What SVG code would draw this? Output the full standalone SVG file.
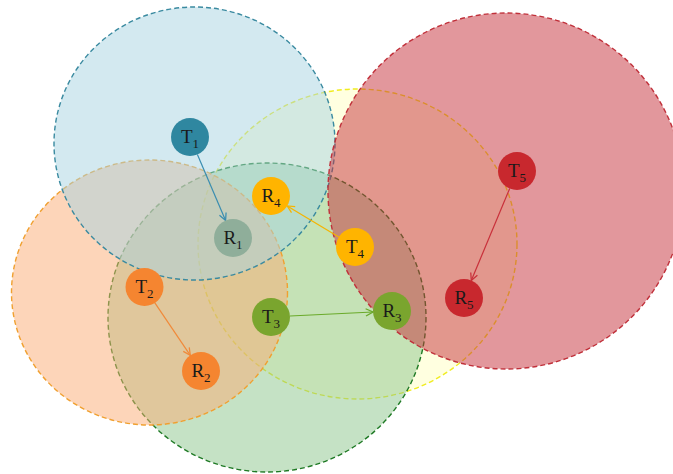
<svg xmlns="http://www.w3.org/2000/svg" width="673" height="474" viewBox="0 0 673 474">
<style>
.area{stroke-width:1.4;stroke-dasharray:5 3}
.lbl{font-family:"Liberation Serif","DejaVu Serif",serif;font-size:19px;fill:#1a1a1a;text-anchor:middle}
.sub{font-size:13px}
.link{stroke-width:1.2;fill:none}
</style>
<defs>
<marker id="mb" viewBox="0 0 10 10" refX="9" refY="5" markerWidth="9" markerHeight="9" markerUnits="userSpaceOnUse" orient="auto"><path d="M1,1 L9,5 L1,9" fill="none" stroke="#3a8db0" stroke-width="1.4"/></marker>
<marker id="my" viewBox="0 0 10 10" refX="9" refY="5" markerWidth="9" markerHeight="9" markerUnits="userSpaceOnUse" orient="auto"><path d="M1,1 L9,5 L1,9" fill="none" stroke="#f5b400" stroke-width="1.4"/></marker>
<marker id="mo" viewBox="0 0 10 10" refX="9" refY="5" markerWidth="9" markerHeight="9" markerUnits="userSpaceOnUse" orient="auto"><path d="M1,1 L9,5 L1,9" fill="none" stroke="#f08a3a" stroke-width="1.4"/></marker>
<marker id="mg" viewBox="0 0 10 10" refX="9" refY="5" markerWidth="9" markerHeight="9" markerUnits="userSpaceOnUse" orient="auto"><path d="M1,1 L9,5 L1,9" fill="none" stroke="#6aaa2a" stroke-width="1.4"/></marker>
<marker id="mr" viewBox="0 0 10 10" refX="9" refY="5" markerWidth="9" markerHeight="9" markerUnits="userSpaceOnUse" orient="auto"><path d="M1,1 L9,5 L1,9" fill="none" stroke="#c8303a" stroke-width="1.4"/></marker>
</defs>
<g id="areas">
<ellipse id="area4" class="area" cx="357.5" cy="244" rx="159.5" ry="155" fill="#ffffc2" fill-opacity="0.5" stroke="#f0ec20"/>
<ellipse id="area3" class="area" cx="267" cy="317.5" rx="159" ry="154.5" fill="#8cc68c" fill-opacity="0.5" stroke="#1f7a25"/>
<ellipse id="area2" class="area" cx="149.5" cy="292.5" rx="138" ry="132.5" fill="#fbab74" fill-opacity="0.5" stroke="#f0a030"/>
<ellipse id="area1" class="area" cx="194.5" cy="143.5" rx="140.5" ry="136.5" fill="#a8d4e2" fill-opacity="0.5" stroke="#3a8aa0"/>
<ellipse id="area5" class="area" cx="506" cy="191" rx="178" ry="178" fill="#c6303a" fill-opacity="0.5" stroke="#c0303a"/>
</g>
<g id="connectors">
<line class="link" x1="197.4" y1="154.5" x2="225.6" y2="220.5" stroke="#3a8db0" marker-end="url(#mb)"/>
<line class="link" x1="338.8" y1="237.1" x2="287.2" y2="205.9" stroke="#f5b400" marker-end="url(#my)"/>
<line class="link" x1="154.7" y1="302.7" x2="190.3" y2="355.3" stroke="#f08a3a" marker-end="url(#mo)"/>
<line class="link" x1="290" y1="316" x2="373" y2="312" stroke="#6aaa2a" marker-end="url(#mg)"/>
<line class="link" x1="509.7" y1="188.5" x2="471.3" y2="280.5" stroke="#c8303a" marker-end="url(#mr)"/>
</g>
<g id="T1"><circle cx="190" cy="137" r="19" fill="#2f87a0"/><text class="lbl" x="190" y="143">T<tspan class="sub" dy="5">1</tspan></text></g>
<g id="R1"><circle cx="233" cy="238" r="19" fill="#8fae9a"/><text class="lbl" x="233" y="244">R<tspan class="sub" dy="5">1</tspan></text></g>
<g id="T2"><circle cx="144.5" cy="287" r="19" fill="#f58530"/><text class="lbl" x="144.5" y="293">T<tspan class="sub" dy="5">2</tspan></text></g>
<g id="R2"><circle cx="201" cy="371" r="19" fill="#f58530"/><text class="lbl" x="201" y="377">R<tspan class="sub" dy="5">2</tspan></text></g>
<g id="T3"><circle cx="271" cy="317" r="19" fill="#7aa52e"/><text class="lbl" x="271" y="323">T<tspan class="sub" dy="5">3</tspan></text></g>
<g id="R3"><circle cx="392" cy="311" r="19" fill="#7aa52e"/><text class="lbl" x="392" y="317">R<tspan class="sub" dy="5">3</tspan></text></g>
<g id="R4"><circle cx="271" cy="196" r="19" fill="#ffb400"/><text class="lbl" x="271" y="202">R<tspan class="sub" dy="5">4</tspan></text></g>
<g id="T4"><circle cx="355" cy="247" r="19" fill="#ffb400"/><text class="lbl" x="355" y="253">T<tspan class="sub" dy="5">4</tspan></text></g>
<g id="T5"><circle cx="517" cy="171" r="19" fill="#c8282e"/><text class="lbl" x="517" y="177">T<tspan class="sub" dy="5">5</tspan></text></g>
<g id="R5"><circle cx="464" cy="298" r="19" fill="#c8282e"/><text class="lbl" x="464" y="304">R<tspan class="sub" dy="5">5</tspan></text></g>
</svg>
